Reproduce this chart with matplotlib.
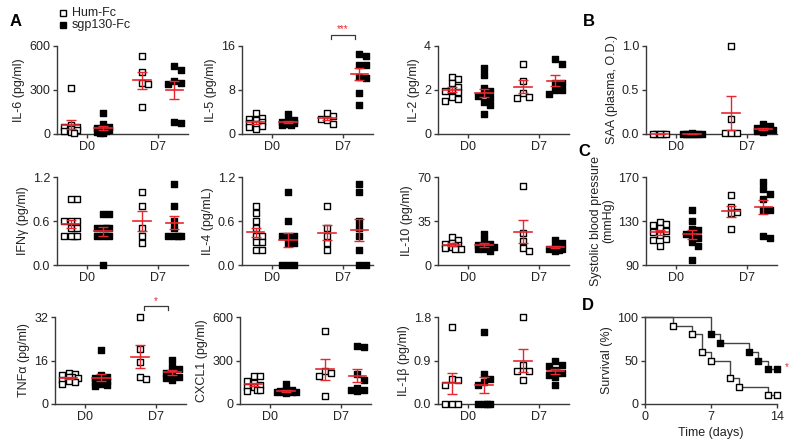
import matplotlib
matplotlib.use("Agg")
import matplotlib.pyplot as plt
from matplotlib.lines import Line2D
import numpy as np

plt.rcParams["font.family"] = ["Liberation Sans", "DejaVu Sans"]

RED = "#e8262d"
AX = "#3a3a3a"
TXT = "#222222"
FS = 9

DAYS = ["D0", "D7"]
GROUPS = ["Hum-Fc", "sgp130-Fc"]

# dot-plot values: [D0 values, D7 values]
il6_hum = [[315, 60, 50, 45, 35, 25, 20, 15, 10], [530, 420, 350, 340, 185]]
il6_sgp = [[140, 70, 50, 40, 30, 25, 20, 15, 10, 10], [465, 435, 360, 345, 340, 75, 80]]
il5_hum = [[3.8, 3.0, 2.8, 2.5, 2.2, 2.0, 1.8, 1.5, 1.2, 1.0], [3.8, 3.2, 2.8, 2.5, 1.8]]
il5_sgp = [[3.6, 2.5, 2.3, 2.2, 2.1, 2.0, 2.0, 1.8, 1.7, 1.6], [14.6, 14.2, 12.6, 12.6, 10.4, 10.1, 7.5, 5.3]]
il2_hum = [[2.6, 2.5, 2.3, 2.15, 2.0, 1.95, 1.9, 1.7, 1.6, 1.5], [3.2, 2.42, 1.85, 1.7, 1.62]]
il2_sgp = [[3.0, 2.7, 2.1, 1.95, 1.8, 1.75, 1.65, 1.45, 1.3, 0.92], [3.4, 3.2, 2.3, 2.3, 2.0, 2.0, 1.8]]
ifng_hum = [[0.9, 0.9, 0.6, 0.6, 0.6, 0.5, 0.5, 0.4, 0.4, 0.4, 0.4], [1.0, 0.8, 0.5, 0.4, 0.3]]
ifng_sgp = [[0.7, 0.7, 0.5, 0.5, 0.5, 0.5, 0.4, 0.4, 0.4, 0.0], [1.1, 0.8, 0.6, 0.5, 0.4, 0.4, 0.4, 0.4]]
il4_hum = [[0.81, 0.71, 0.6, 0.5, 0.4, 0.4, 0.31, 0.31, 0.2, 0.2], [0.8, 0.5, 0.4, 0.3, 0.2]]
il4_sgp = [[1.0, 0.6, 0.4, 0.4, 0.4, 0.3, 0.3, 0.0, 0.0, 0.0], [1.1, 1.0, 0.6, 0.5, 0.4, 0.2, 0.0, 0.0]]
il10_hum = [[22.5, 19.5, 17.5, 17, 16, 15.5, 14.5, 13.5, 13, 12.5], [62.8, 25.3, 19.4, 13.6, 11.4]]
il10_sgp = [[25, 19.5, 17, 16, 15.5, 15, 14, 13, 12.5, 11], [19.5, 17.5, 14, 13, 12.5, 12, 11.5]]
tnfa_hum = [[11.5, 11, 10.5, 10, 10, 9.5, 9, 8.5, 8, 7.5], [32, 20.4, 15.3, 9.9, 9.1]]
tnfa_sgp = [[20, 10.5, 10, 9.5, 9, 8.5, 8, 7.5, 7, 6.5], [16.2, 13.5, 12.8, 11.5, 10.5, 10, 9.5, 9]]
cxcl1_hum = [[195, 195, 160, 145, 130, 120, 115, 100, 100, 90], [502, 230, 212, 194, 57]]
cxcl1_sgp = [[140, 100, 95, 90, 90, 85, 85, 80, 80, 75], [401, 392, 208, 167, 110, 100, 95, 90]]
il1b_hum = [[1.6, 0.52, 0.5, 0.4, 0.0, 0.0, 0.0], [1.8, 0.81, 0.69, 0.69, 0.5]]
il1b_sgp = [[1.5, 0.62, 0.51, 0.45, 0.4, 0.0, 0.0, 0.0, 0.0], [0.9, 0.8, 0.78, 0.7, 0.65, 0.6, 0.55, 0.4]]
saa_hum = [[0.0, 0.0, 0.0, 0.0, 0.0], [1.0, 0.167, 0.01, 0.01, 0.01]]
saa_sgp = [[0.01, 0.0, 0.0, 0.0, 0.0, 0.0, 0.0, 0.0], [0.11, 0.09, 0.07, 0.06, 0.05, 0.04, 0.03, 0.02]]
sbp_hum = [[129, 127, 126, 124, 121, 120, 117, 114, 113, 107], [154, 143, 138, 137, 123]]
sbp_sgp = [[140, 130, 123, 122, 118, 117, 115, 111, 107, 95], [165.5, 159.5, 155, 150.4, 139.8, 139.8, 116.6, 114.8]]

# survival (Kaplan-Meier steps)
surv_days_hum = [0, 3, 5, 6, 7, 9, 10, 13, 14]
surv_pct_hum = [100, 90, 80, 60, 50, 30, 20, 10, 10]
surv_days_sgp = [0, 7, 8, 11, 12, 13, 14]
surv_pct_sgp = [100, 80, 70, 60, 50, 40, 40]

# (hum, sgp, ylabel, ymin, ymax, ticklabels, significance star at D7, left px, top px)
panels = [
    (il6_hum, il6_sgp, "IL-6 (pg/ml)", 0, 600, ["0", "300", "600"], None, 57, 46),
    (il5_hum, il5_sgp, "IL-5 (pg/ml)", 0, 16, ["0", "8", "16"], "***", 242, 46),
    (il2_hum, il2_sgp, "IL-2 (pg/ml)", 0, 4, ["0", "2", "4"], None, 438, 46),
    (ifng_hum, ifng_sgp, "IFNγ (pg/ml)", 0, 1.2, ["0.0", "0.6", "1.2"], None, 57, 177),
    (il4_hum, il4_sgp, "IL-4 (pg/mL)", 0, 1.2, ["0.0", "0.6", "1.2"], None, 242, 177),
    (il10_hum, il10_sgp, "IL-10 (pg/ml)", 0, 70, ["0", "35", "70"], None, 438, 177),
    (tnfa_hum, tnfa_sgp, "TNFα (pg/ml)", 0, 32, ["0", "16", "32"], "*", 55, 317),
    (cxcl1_hum, cxcl1_sgp, "CXCL1 (pg/ml)", 0, 600, ["0", "300", "600"], None, 240, 317),
    (il1b_hum, il1b_sgp, "IL-1β (pg/ml)", 0, 1.8, ["0.0", "0.9", "1.8"], None, 438, 317),
    (saa_hum, saa_sgp, "SAA (plasma, O.D.)", 0, 1.0, ["0.0", "0.5", "1.0"], None, 646, 46),
    (sbp_hum, sbp_sgp, "Systolic blood pressure\n(mmHg)", 90, 170, ["90", "130", "170"], None, 646, 177),
]

W, H = 800, 446
fig = plt.figure(figsize=(W / 100, H / 100), dpi=100)


def axes_px(left, top, w=131, h=88):
    return fig.add_axes([left / W, 1 - (top + h) / H, w / W, h / H])


def style(ax):
    for s in ["top", "right"]:
        ax.spines[s].set_visible(False)
    for s in ["left", "bottom"]:
        ax.spines[s].set_color(AX)
        ax.spines[s].set_linewidth(1.0)
    ax.tick_params(colors=AX, labelcolor=TXT, length=3, width=1.0, labelsize=FS, pad=2)


def swarm_x(ax, xc, vals, size=6.2, max_off=10.0):
    # simple greedy beeswarm in pixel space, capped width (points may overlap)
    tr = ax.transData
    ppu = tr.transform((1, 0))[0] - tr.transform((0, 0))[0]
    ys = np.array([tr.transform((xc, v))[1] for v in vals])
    step = size / 2
    n = int(max_off // step)
    cands = sorted([k * step for k in range(-n, n + 1)], key=lambda d: (abs(d), -d))
    placed = []
    xs = np.zeros(len(vals))
    for i in np.argsort(vals)[::-1]:
        best, best_gap = 0.0, -1.0
        for d in cands:
            gap = min([max(abs(d - pd), abs(ys[i] - py)) for pd, py in placed] + [1e9])
            if gap >= size:
                best = d
                break
            if gap > best_gap + 0.5:
                best, best_gap = d, gap
        placed.append((best, ys[i]))
        xs[i] = xc + best / ppu
    return xs


def mean_sem(ax, xc, vals):
    m = np.mean(vals)
    se = np.std(vals, ddof=1) / np.sqrt(len(vals))
    ax.plot([xc - 0.125, xc + 0.125], [m, m], color=RED, lw=1.2, zorder=6, clip_on=False)
    ax.errorbar(xc, m, yerr=se, color=RED, lw=1.0, capsize=3.6, capthick=1.0, zorder=6, clip_on=False)


OFF = 0.23
for hum, sgp, ylab, y0, y1, tlabs, star, left, top in panels:
    ax = axes_px(left, top, h=88 if top < 300 else 87)
    ax.set_xlim(-0.42, 1.42)
    ax.set_ylim(y0, y1)
    style(ax)
    ax.set_yticks(np.linspace(y0, y1, 3))
    ax.set_yticklabels(tlabs)
    ax.set_xticks([0, 1])
    ax.set_xticklabels(DAYS)
    ax.set_ylabel(ylab, fontsize=FS, color=TXT, labelpad=3, linespacing=1.0)
    for d in range(2):
        for vals, xc, fc in [(hum[d], d - OFF, "white"), (sgp[d], d + OFF, "black")]:
            xs = swarm_x(ax, xc, vals)
            ax.scatter(xs, vals, marker="s", s=24, facecolor=fc, edgecolor="black",
                       linewidth=1.0, zorder=4, clip_on=False)
            mean_sem(ax, xc, vals)
    if star:
        yb = y1 * 1.13
        tick = y1 * 0.05
        ax.plot([1 - 0.17, 1 - 0.17, 1 + 0.17, 1 + 0.17], [yb - tick, yb, yb, yb - tick],
                color=AX, lw=0.9, clip_on=False)
        ax.text(1, yb, star, color=RED, fontsize=7, ha="center", va="bottom")

# survival panel
ax = axes_px(645, 317, w=132, h=87)
style(ax)
ax.set_xlim(0, 14)
ax.set_ylim(0, 100)
ax.set_xticks([0, 7, 14])
ax.set_yticks([0, 50, 100])
for days, pct, fc in [(surv_days_hum, surv_pct_hum, "white"), (surv_days_sgp, surv_pct_sgp, "black")]:
    ax.step(days, pct, where="post", color="#444444", lw=1.0, clip_on=False, zorder=3)
    ax.scatter(days[1:], pct[1:], marker="s", s=24, facecolor=fc, edgecolor="black",
               linewidth=1.0, zorder=4, clip_on=False)
ax.set_ylabel("Survival (%)", fontsize=FS, color=TXT, labelpad=3)
ax.set_xlabel("Time (days)", fontsize=FS, color=TXT, labelpad=3)
ax.text(15.0, surv_pct_sgp[-1] + 3, "*", color=RED, fontsize=7, ha="center", va="center")

# panel letters
for letter, x, y in [("A", 10, 22), ("B", 583, 22), ("C", 578, 151), ("D", 582, 306)]:
    fig.text(x / W, 1 - y / H, letter, fontsize=12, fontweight="bold", va="center", ha="left")

# legend
for (name, fc), y in zip(zip(GROUPS, ["white", "black"]), [13, 25]):
    fig.add_artist(Line2D([63 / W], [1 - y / H], marker="s", ls="", ms=5, mfc=fc, mec="black", mew=1.0))
    fig.text(72 / W, 1 - y / H, name, fontsize=FS, color=TXT, va="center", ha="left")

fig.savefig("out.png", dpi=100)
